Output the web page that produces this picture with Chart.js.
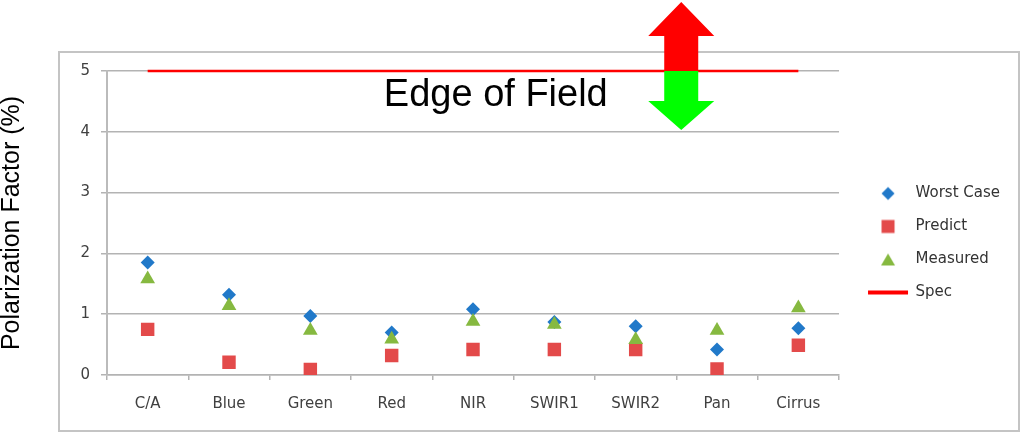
<!DOCTYPE html>
<html>
<head>
<meta charset="utf-8">
<script src="https://cdn.jsdelivr.net/npm/chart.js@4/dist/chart.umd.min.js"></script>
<style>
  html, body { margin: 0; background: #fff; }
  #wrap { width: 1024px; height: 435px; }
</style>
</head>
<body>
<div id="wrap"><canvas id="chart" width="1024" height="435"></canvas></div>
<script>
const bands = ['C/A', 'Blue', 'Green', 'Red', 'NIR', 'SWIR1', 'SWIR2', 'Pan', 'Cirrus'];
const worstCase = [1.85, 1.32, 0.97, 0.70, 1.08, 0.87, 0.80, 0.42, 0.77];
const predict = [0.75, 0.21, 0.09, 0.32, 0.42, 0.42, 0.42, 0.10, 0.49];
const measured = [1.58, 1.14, 0.73, 0.59, 0.88, 0.83, 0.58, 0.73, 1.10];
const spec = [5, 5, 5, 5, 5, 5, 5, 5, 5];
const yTicks = [0, 1, 2, 3, 4, 5];

const BLUE = '#2179c9', RED = '#e34a4a', GREEN = '#86b940', SPEC = '#ff0000';
Chart.defaults.font.family = 'DejaVu Sans';
Chart.defaults.font.size = 15;

// small marker images for the legend (so pointStyleWidth doesn't stretch them)
function icon(draw) {
  const c = document.createElement('canvas');
  c.width = 16; c.height = 16;
  const g = c.getContext('2d');
  draw(g);
  return c;
}
const legendIcons = [
  icon(g => { g.fillStyle = BLUE; g.beginPath(); g.moveTo(8, 1.5); g.lineTo(14.5, 8); g.lineTo(8, 14.5); g.lineTo(1.5, 8); g.closePath(); g.fill(); }),
  icon(g => { g.fillStyle = RED; g.fillRect(1.5, 1.5, 13, 13); }),
  icon(g => { g.fillStyle = GREEN; g.beginPath(); g.moveTo(8, 2); g.lineTo(15, 14); g.lineTo(1, 14); g.closePath(); g.fill(); })
];

const framePlugin = {
  id: 'frame',
  beforeDraw(chart) {
    const ctx = chart.ctx;
    ctx.save();
    ctx.fillStyle = '#fff';
    ctx.fillRect(0, 0, chart.width, chart.height);
    ctx.strokeStyle = '#c4c4c4';
    ctx.lineWidth = 2;
    ctx.strokeRect(59, 52, 960, 379);
    ctx.restore();
  }
};

const legendShift = {
  id: 'legendShift',
  afterLayout(chart) {
    const lg = chart.legend;
    lg.left += 11; lg.right += 11;
    lg.top -= 10; lg.bottom -= 10;
  }
};

const notes = {
  id: 'notes',
  afterDraw(chart) {
    const ctx = chart.ctx, x = chart.scales.x, y = chart.scales.y;
    ctx.save();
    // text
    ctx.fillStyle = '#000';
    ctx.font = '38px "Liberation Sans"';
    ctx.textAlign = 'center';
    ctx.textBaseline = 'alphabetic';
    ctx.fillText('Edge of Field', x.getPixelForValue(4.28), y.getPixelForValue(4.42));
    // double arrow at the spec line
    const cx = x.getPixelForValue(6.56), cy = y.getPixelForValue(5);
    const sw = 17, hw = 33;
    ctx.fillStyle = '#ff0000';
    ctx.beginPath();
    ctx.moveTo(cx - sw, cy); ctx.lineTo(cx - sw, cy - 35); ctx.lineTo(cx - hw, cy - 35);
    ctx.lineTo(cx, cy - 69); ctx.lineTo(cx + hw, cy - 35); ctx.lineTo(cx + sw, cy - 35);
    ctx.lineTo(cx + sw, cy); ctx.closePath(); ctx.fill();
    ctx.fillStyle = '#00ff00';
    ctx.beginPath();
    ctx.moveTo(cx - sw, cy); ctx.lineTo(cx - sw, cy + 30); ctx.lineTo(cx - hw, cy + 30);
    ctx.lineTo(cx, cy + 59); ctx.lineTo(cx + hw, cy + 30); ctx.lineTo(cx + sw, cy + 30);
    ctx.lineTo(cx + sw, cy); ctx.closePath(); ctx.fill();
    ctx.restore();
  }
};

const pts = (label, data, style, radius, color, order) => ({
  label, data, showLine: false, pointStyle: style, pointRadius: radius, pointHoverRadius: radius,
  backgroundColor: color, borderColor: color, pointBorderWidth: 0, order
});

new Chart(document.getElementById('chart'), {
  type: 'line',
  data: {
    labels: bands,
    datasets: [
      pts('Worst Case', worstCase, 'rectRot', 7, BLUE, 2),
      pts('Predict', predict, 'rect', 9.5, RED, 1),
      pts('Measured', measured, 'triangle', 8.5, GREEN, 0),
      { label: 'Spec', data: spec, borderColor: SPEC, backgroundColor: SPEC, borderWidth: 2.5,
        pointRadius: 0, pointStyle: 'line', clip: false, order: 3 }
    ]
  },
  options: {
    responsive: false,
    animation: false,
    layout: { padding: { top: 71, left: 0, bottom: 0, right: 25 } },
    scales: {
      x: {
        offset: true,
        grid: { display: true, offset: true, drawOnChartArea: false, tickLength: 5, color: '#b3b3b3', lineWidth: 1.5 },
        border: { color: '#b3b3b3', width: 1.5 },
        ticks: { color: '#404040', padding: 15, maxRotation: 0 },
        afterFit(s) { s.height = 60; }
      },
      y: {
        min: 0, max: 5,
        afterBuildTicks(s) { s.ticks = yTicks.map(v => ({ value: v })); },
        grid: { color: '#b3b3b3', lineWidth: 1.5, tickLength: 6 },
        border: { color: '#bbbbbb', width: 2 },
        ticks: { color: '#404040', padding: 11 },
        title: { display: true, text: 'Polarization Factor (%)', color: '#000',
                 font: { family: 'Liberation Sans', size: 25, lineHeight: 1 }, padding: { top: 0, bottom: 0 } },
        afterFit(s) { s.width = 107; }
      }
    },
    plugins: {
      tooltip: { enabled: false },
      legend: {
        position: 'right',
        labels: {
          color: '#333',
          usePointStyle: true,
          pointStyleWidth: 40,
          padding: 18,
          sort: (a, b) => a.datasetIndex - b.datasetIndex,
          generateLabels(chart) {
            const items = Chart.defaults.plugins.legend.labels.generateLabels(chart);
            items.forEach(it => {
              if (legendIcons[it.datasetIndex]) it.pointStyle = legendIcons[it.datasetIndex];
              else it.lineWidth = 4;
            });
            return items;
          }
        }
      }
    }
  },
  plugins: [framePlugin, legendShift, notes]
});
</script>
</body>
</html>
